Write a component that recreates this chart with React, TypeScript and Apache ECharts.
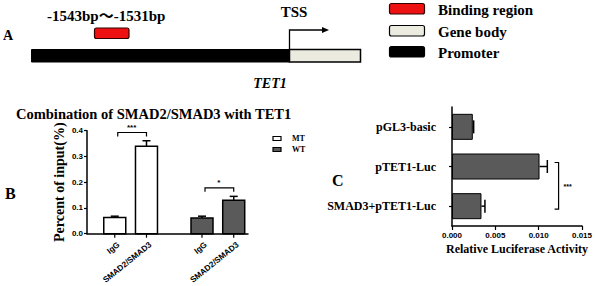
import React, { useEffect, useRef } from "react";
import * as echarts from "echarts";

// ---- Panel B data ----
const groupsB = ["MT", "WT"];
const samplesB = ["IgG", "SMAD2/SMAD3"];
const mtValues = [0.063, 0.34];
const mtErrors = [0.005, 0.021];
const wtValues = [0.061, 0.13];
const wtErrors = [0.007, 0.015];
const sigLabelsB = ["***", "*"];
const sigLevelsB = [0.393, 0.178];
const yTicksB = [0, 0.1, 0.2, 0.3, 0.4];

// ---- Panel C data ----
const categoriesC = ["pGL3-basic", "pTET1-Luc", "SMAD3+pTET1-Luc"];
const valuesC = [0.0024, 0.0101, 0.0034];
const errorsC = [0.0001, 0.0009, 0.0004];
const sigLabelC = "***";
const sigPosC = 0.0123;

const SERIF = "'Liberation Serif', 'Times New Roman', serif";
const SANS = "'Liberation Sans', Arial, sans-serif";
const BAR_GRAY = "#5a5a5a";

export default function App() {
  const ref = useRef<HTMLDivElement>(null);
  useEffect(() => {
    if (!ref.current) return;
    const chart = echarts.init(ref.current, undefined, { renderer: "svg" });

    // slot positions for panel B on a value axis
    const slot = (g: number, s: number) => g * 2.75 + s + 1;
    const barDataB: any[] = [];
    groupsB.forEach((_, g) => {
      const vals = g === 0 ? mtValues : wtValues;
      const errs = g === 0 ? mtErrors : wtErrors;
      samplesB.forEach((_, s) => {
        barDataB.push([slot(g, s), vals[s], errs[s], g]);
      });
    });
    const labelDataB: any[] = [];
    const labelTextB: string[] = [];
    groupsB.forEach((_, g) => {
      samplesB.forEach((name, s) => {
        labelDataB.push([slot(g, s), 0]);
        labelTextB.push(name);
      });
    });
    const sigDataB = sigLabelsB.map((_, g) => [slot(g, 0), sigLevelsB[g], slot(g, 1)]);

    const axisLine = { show: true, onZero: false, lineStyle: { color: "#000", width: 1.5 } };

    const option: any = {
      animation: false,
      grid: [
        { left: 87, top: 130.7, width: 161, height: 103 },
        { left: 452, top: 107, width: 134, height: 119 },
      ],
      xAxis: [
        {
          gridIndex: 0,
          type: "value",
          min: 0.125,
          max: 5.2,
          axisLine,
          axisTick: { show: false },
          axisLabel: { show: false },
          splitLine: { show: false },
        },
        {
          gridIndex: 1,
          type: "value",
          min: 0,
          max: 0.015,
          interval: 0.005,
          axisLine,
          axisTick: { show: true, length: 4, lineStyle: { color: "#000", width: 1.2 } },
          axisLabel: {
            formatter: (v: number) => v.toFixed(3),
            fontSize: 8,
            fontWeight: "bold",
            fontFamily: SANS,
            color: "#000",
            margin: 5,
          },
          splitLine: { show: false },
          name: "Relative Luciferase Activity",
          nameLocation: "middle",
          nameGap: 17,
          nameTextStyle: { fontFamily: SERIF, fontWeight: "bold", fontSize: 12, color: "#000" },
        },
      ],
      yAxis: [
        {
          gridIndex: 0,
          type: "value",
          min: yTicksB[0],
          max: yTicksB[yTicksB.length - 1],
          interval: 0.1,
          axisLine,
          axisTick: { show: true, length: 3, lineStyle: { color: "#000", width: 1.2 } },
          axisLabel: {
            formatter: (v: number) => v.toFixed(1),
            fontSize: 8,
            fontWeight: "bold",
            fontFamily: SANS,
            color: "#000",
            margin: 4,
          },
          splitLine: { show: false },
          name: "Percent of input(%)",
          nameLocation: "middle",
          nameGap: 21,
          nameTextStyle: { fontFamily: SERIF, fontWeight: "bold", fontSize: 14, color: "#000" },
        },
        {
          gridIndex: 1,
          type: "category",
          data: categoriesC,
          inverse: true,
          axisLine,
          axisTick: { show: true, alignWithLabel: true, length: 3, lineStyle: { color: "#000", width: 1.2 } },
          axisLabel: { fontFamily: SERIF, fontWeight: "bold", fontSize: 12, color: "#000", margin: 16 },
        },
      ],
      series: [
        {
          type: "custom",
          xAxisIndex: 0,
          yAxisIndex: 0,
          clip: false,
          data: barDataB,
          encode: { x: 0, y: 1 },
          renderItem: (params: any, api: any) => {
            const x = api.value(0);
            const v = api.value(1);
            const e = api.value(2);
            const g = api.value(3);
            const top = api.coord([x, v]);
            const base = api.coord([x, 0]);
            const et = api.coord([x, v + e]);
            const w = 22;
            const ls = { stroke: "#000", lineWidth: 1.5 };
            return {
              type: "group",
              children: [
                { type: "line", shape: { x1: top[0], y1: top[1], x2: top[0], y2: et[1] }, style: ls },
                { type: "line", shape: { x1: top[0] - 4, y1: et[1], x2: top[0] + 4, y2: et[1] }, style: ls },
                {
                  type: "rect",
                  shape: { x: top[0] - w / 2, y: top[1], width: w, height: base[1] - top[1] },
                  style: { fill: g === 0 ? "#fff" : BAR_GRAY, stroke: "#000", lineWidth: 1.5 },
                },
              ],
            };
          },
        },
        {
          type: "custom",
          xAxisIndex: 0,
          yAxisIndex: 0,
          clip: false,
          data: labelDataB,
          encode: { x: 0, y: 1 },
          renderItem: (params: any, api: any) => {
            const p = api.coord([api.value(0), 0]);
            return {
              type: "group",
              children: [
                { type: "line", shape: { x1: p[0], y1: p[1], x2: p[0], y2: p[1] + 4 }, style: { stroke: "#000", lineWidth: 1.2 } },
                {
                  type: "text",
                  x: p[0] + 4,
                  y: p[1] + 10,
                  rotation: 0.68,
                  style: {
                    text: labelTextB[params.dataIndex],
                    align: "right",
                    verticalAlign: "middle",
                    fontSize: 8.2,
                    fontWeight: "bold",
                    fontFamily: SANS,
                    fill: "#000",
                  },
                },
              ],
            };
          },
        },
        {
          type: "custom",
          xAxisIndex: 0,
          yAxisIndex: 0,
          clip: false,
          data: sigDataB,
          encode: { x: 0, y: 1 },
          renderItem: (params: any, api: any) => {
            const a = api.coord([api.value(0), api.value(1)]);
            const b = api.coord([api.value(2), api.value(1)]);
            const ls = { stroke: "#000", lineWidth: 1.2, fill: "none" };
            return {
              type: "group",
              children: [
                {
                  type: "polyline",
                  shape: { points: [[a[0] + 3, a[1] + 4], [a[0] + 3, a[1]], [b[0], b[1]], [b[0], b[1] + 4]] },
                  style: ls,
                },
                {
                  type: "text",
                  x: (a[0] + b[0]) / 2 + 1,
                  y: a[1] - 1,
                  style: {
                    text: sigLabelsB[params.dataIndex],
                    align: "center",
                    verticalAlign: "bottom",
                    fontSize: 8,
                    fontWeight: "bold",
                    fontFamily: SANS,
                    fill: "#000",
                  },
                },
              ],
            };
          },
        },
        {
          type: "bar",
          xAxisIndex: 1,
          yAxisIndex: 1,
          data: valuesC,
          barWidth: 26,
          itemStyle: { color: BAR_GRAY, borderColor: "#000", borderWidth: 1 },
          z: 3,
        },
        {
          type: "custom",
          xAxisIndex: 1,
          yAxisIndex: 1,
          clip: false,
          data: valuesC.map((v, i) => [v, i, errorsC[i]]),
          encode: { x: 0, y: 1 },
          z: 4,
          renderItem: (params: any, api: any) => {
            const v = api.value(0);
            const i = api.value(1);
            const e = api.value(2);
            const s = api.coord([v, i]);
            const t = api.coord([v + e, i]);
            const ls = { stroke: "#000", lineWidth: 1.5 };
            return {
              type: "group",
              children: [
                { type: "line", shape: { x1: s[0], y1: s[1], x2: t[0], y2: t[1] }, style: ls },
                { type: "line", shape: { x1: t[0], y1: t[1] - 6.5, x2: t[0], y2: t[1] + 6.5 }, style: ls },
              ],
            };
          },
        },
        {
          type: "custom",
          xAxisIndex: 1,
          yAxisIndex: 1,
          clip: false,
          data: [[sigPosC, 1, 2]],
          encode: { x: 0, y: 1 },
          renderItem: (params: any, api: any) => {
            const a = api.coord([api.value(0), api.value(1)]);
            const b = api.coord([api.value(0), api.value(2)]);
            const ls = { stroke: "#000", lineWidth: 1.2, fill: "none" };
            return {
              type: "group",
              children: [
                {
                  type: "polyline",
                  shape: { points: [[a[0] - 4, a[1] - 4], [a[0], a[1] - 4], [b[0], b[1] + 3], [b[0] - 4, b[1] + 3]] },
                  style: ls,
                },
                {
                  type: "text",
                  x: a[0] + 5,
                  y: (a[1] + b[1]) / 2,
                  style: {
                    text: sigLabelC,
                    align: "left",
                    verticalAlign: "middle",
                    fontSize: 7,
                    fontWeight: "bold",
                    fontFamily: SANS,
                    fill: "#000",
                  },
                },
              ],
            };
          },
        },
      ],
      graphic: [
        // Panel letters
        { type: "text", x: 3, y: 35, style: { text: "A", fontFamily: SERIF, fontWeight: "bold", fontSize: 14, fill: "#000", verticalAlign: "middle" } },
        { type: "text", x: 5, y: 193, style: { text: "B", fontFamily: SERIF, fontWeight: "bold", fontSize: 16, fill: "#000", verticalAlign: "middle" } },
        { type: "text", x: 332, y: 180, style: { text: "C", fontFamily: SERIF, fontWeight: "bold", fontSize: 16, fill: "#000", verticalAlign: "middle" } },
        // Panel A gene diagram
        { type: "rect", shape: { x: 31.5, y: 49.5, width: 258, height: 12.5 }, style: { fill: "#000", stroke: "#000" } },
        { type: "rect", shape: { x: 289.5, y: 49.5, width: 71, height: 12.5 }, style: { fill: "#ecebe0", stroke: "#000", lineWidth: 1.5 } },
        { type: "rect", shape: { x: 94.5, y: 28, width: 34.5, height: 10.5, r: 2 }, style: { fill: "#ee1111", stroke: "#300", lineWidth: 1.2 } },
        {
          type: "text",
          x: 47,
          y: 16,
          style: {
            text: "-1543bp～-1531bp",
            fontFamily: SERIF + ", 'Noto Sans CJK SC'",
            fontWeight: "bold",
            fontSize: 15,
            fill: "#000",
            align: "left",
            verticalAlign: "middle",
          },
        },
        { type: "polyline", shape: { points: [[289.5, 50], [289.5, 30], [326, 30]] }, style: { stroke: "#000", lineWidth: 1.3, fill: "none" } },
        { type: "polygon", shape: { points: [[329, 30], [322, 27], [322, 33]] }, style: { fill: "#000" } },
        { type: "text", x: 294, y: 12, style: { text: "TSS", fontFamily: SERIF, fontWeight: "bold", fontSize: 15, fill: "#000", align: "center", verticalAlign: "middle" } },
        { type: "text", x: 270, y: 83, style: { text: "TET1", fontFamily: SERIF, fontWeight: "bold", fontStyle: "italic", fontSize: 14, fill: "#000", align: "center", verticalAlign: "middle" } },
        // Panel A legend
        { type: "rect", shape: { x: 389.5, y: 3.5, width: 35, height: 10.5, r: 2 }, style: { fill: "#ee1111", stroke: "#300", lineWidth: 1.2 } },
        { type: "rect", shape: { x: 389.5, y: 25.5, width: 35, height: 10.5, r: 2 }, style: { fill: "#ecebe0", stroke: "#000", lineWidth: 1.2 } },
        { type: "rect", shape: { x: 389.5, y: 46.5, width: 35, height: 10.5, r: 2 }, style: { fill: "#000", stroke: "#000", lineWidth: 1.2 } },
        { type: "text", x: 438, y: 10, style: { text: "Binding region", fontFamily: SERIF, fontWeight: "bold", fontSize: 15, fill: "#000", verticalAlign: "middle" } },
        { type: "text", x: 438, y: 32, style: { text: "Gene body", fontFamily: SERIF, fontWeight: "bold", fontSize: 15, fill: "#000", verticalAlign: "middle" } },
        { type: "text", x: 438, y: 53, style: { text: "Promoter", fontFamily: SERIF, fontWeight: "bold", fontSize: 15, fill: "#000", verticalAlign: "middle" } },
        // Panel B title
        {
          type: "text",
          x: 16,
          y: 114,
          style: { text: "Combination of SMAD2/SMAD3 with TET1", fontFamily: SERIF, fontWeight: "bold", fontSize: 14.5, fill: "#000", align: "left", verticalAlign: "middle" },
        },
        // Panel B legend
        { type: "rect", shape: { x: 273, y: 136.5, width: 8, height: 4 }, style: { fill: "#fff", stroke: "#000", lineWidth: 1.2 } },
        { type: "rect", shape: { x: 273, y: 147.5, width: 8, height: 4 }, style: { fill: BAR_GRAY, stroke: "#000", lineWidth: 1.2 } },
        { type: "text", x: 292, y: 138.5, style: { text: groupsB[0], fontFamily: SERIF, fontWeight: "bold", fontSize: 8, fill: "#000", verticalAlign: "middle" } },
        { type: "text", x: 292, y: 149.5, style: { text: groupsB[1], fontFamily: SERIF, fontWeight: "bold", fontSize: 8, fill: "#000", verticalAlign: "middle" } },
      ],
    };
    chart.setOption(option);
    return () => chart.dispose();
  }, []);
  return (
    <div
      ref={ref}
      style={{ position: "fixed", left: 0, top: 0, width: 595, height: 286, background: "#fff" }}
    />
  );
}
